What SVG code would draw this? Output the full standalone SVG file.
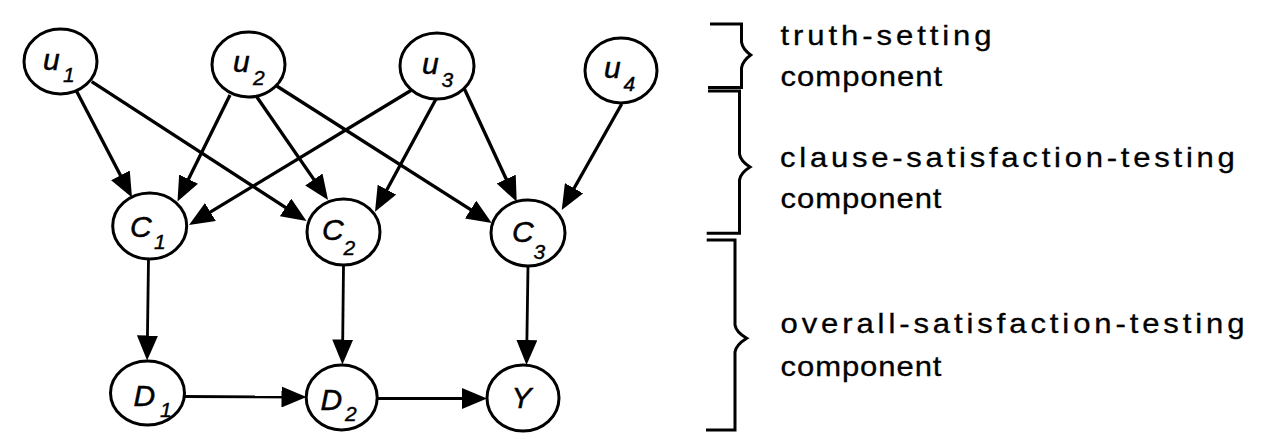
<svg xmlns="http://www.w3.org/2000/svg" width="1270" height="439" viewBox="0 0 1270 439">
<style>
.node ellipse{fill:#fff;stroke:#000;stroke-width:3}
.lab{font-family:"Liberation Sans",Arial,sans-serif;font-style:italic;font-size:30px;fill:#000;stroke:#000;stroke-width:0.5}
.sub{font-family:"Liberation Sans",Arial,sans-serif;font-style:italic;font-size:21px;fill:#000;stroke:#000;stroke-width:0.4}
.edge{stroke:#000;stroke-width:3.3;fill:none;marker-end:url(#arr)}
.vedge{stroke:#000;stroke-width:2.8;fill:none;marker-end:url(#arr)}
.brk{stroke:#000;stroke-width:3;fill:none;stroke-linejoin:miter}
.txt{font-family:"Liberation Sans",Arial,sans-serif;font-size:27px;fill:#000;stroke:#000;stroke-width:0.3}
</style>
<defs>
<marker id="arr" markerUnits="userSpaceOnUse" markerWidth="25" markerHeight="21" viewBox="0 0 25 21" refX="20" refY="10.5" orient="auto">
<path d="M0,0 L25,10.5 L0,21 z" fill="#000"/>
</marker>
</defs>
<rect width="1270" height="439" fill="#fff"/>
<g id="connectors">
<line class="edge" x1="76.6" y1="91.2" x2="129.7" y2="193.1"/>
<line class="edge" x1="91.7" y1="81.7" x2="302.3" y2="218.3"/>
<line class="edge" x1="230" y1="95" x2="179.7" y2="197"/>
<line class="edge" x1="256.7" y1="96.7" x2="325.2" y2="195.9"/>
<line class="edge" x1="276.7" y1="86" x2="487.5" y2="220.3"/>
<line class="edge" x1="411.7" y1="90" x2="193.3" y2="222.4"/>
<line class="edge" x1="436" y1="99" x2="377.4" y2="207.3"/>
<line class="edge" x1="464" y1="88" x2="514.6" y2="197.2"/>
<line class="edge" x1="621.7" y1="104" x2="564.2" y2="205.7"/>
<line class="vedge" x1="148.5" y1="259" x2="147.2" y2="355.5"/>
<line class="vedge" x1="343.5" y1="265" x2="342.5" y2="359.5"/>
<line class="vedge" x1="528" y1="266" x2="526.6" y2="360"/>
<line class="vedge" x1="184.5" y1="396.5" x2="301.5" y2="397"/>
<line class="vedge" x1="377" y1="398.5" x2="482" y2="398.5"/>
</g>
<g id="u1" class="node"><ellipse cx="60.5" cy="61.5" rx="36.5" ry="32.5"/><text class="lab" x="43" y="70">u</text><text class="sub" x="63" y="82">1</text></g>
<g id="u2" class="node"><ellipse cx="248.5" cy="64.5" rx="36.5" ry="32.5"/><text class="lab" x="233" y="71.7">u</text><text class="sub" x="253" y="85">2</text></g>
<g id="u3" class="node"><ellipse cx="437" cy="66" rx="37" ry="33"/><text class="lab" x="422" y="74">u</text><text class="sub" x="441.5" y="87.3">3</text></g>
<g id="u4" class="node"><ellipse cx="621" cy="70.5" rx="36" ry="32.5"/><text class="lab" x="604" y="78.3">u</text><text class="sub" x="623.5" y="90.7">4</text></g>
<g id="C1" class="node"><ellipse cx="149.7" cy="226" rx="37" ry="33"/><text class="lab" x="130" y="237.3">C</text><text class="sub" x="154" y="249.3">1</text></g>
<g id="C2" class="node"><ellipse cx="343.5" cy="232" rx="36.5" ry="33"/><text class="lab" x="322" y="240">C</text><text class="sub" x="343.5" y="255">2</text></g>
<g id="C3" class="node"><ellipse cx="528" cy="233" rx="37" ry="33"/><text class="lab" x="512" y="241.7">C</text><text class="sub" x="533.5" y="259.3">3</text></g>
<g id="D1" class="node"><ellipse cx="147.5" cy="393" rx="37" ry="32"/><text class="lab" x="133.5" y="406">D</text><text class="sub" x="160" y="416.7">1</text></g>
<g id="D2" class="node"><ellipse cx="341.7" cy="397.5" rx="35.5" ry="32.5"/><text class="lab" x="320.5" y="410">D</text><text class="sub" x="345" y="420.7">2</text></g>
<g id="Y" class="node"><ellipse cx="523" cy="398" rx="36" ry="33"/><text class="lab" x="511.5" y="408.3">Y</text></g>
<g id="brackets">
<path class="brk" d="M710,24 H741.5 V42 Q742.5,49 750.7,55 Q742.5,61 741.5,68 V87.5 H708"/>
<path class="brk" d="M708,91 H739.5 V154 Q740.5,161 750,167 Q740.5,173 739.5,180 V233.3 H706.7"/>
<path class="brk" d="M706.7,240 H735 V325 Q736,332 746.7,338.3 Q736,345 735,352 V430 H706"/>
</g>
<g id="labels">
<text class="txt" transform="translate(780.5,45) scale(1.15,1)" x="0" y="0" textLength="183.5" lengthAdjust="spacing">truth-setting</text>
<text class="txt" transform="translate(780.5,86.3) scale(1.15,1)" x="0" y="0" textLength="140.5" lengthAdjust="spacing">component</text>
<text class="txt" transform="translate(780,167) scale(1.15,1)" x="0" y="0" textLength="395.5" lengthAdjust="spacing">clause-satisfaction-testing</text>
<text class="txt" transform="translate(780.5,208.3) scale(1.15,1)" x="0" y="0" textLength="140" lengthAdjust="spacing">component</text>
<text class="txt" transform="translate(780.5,333.3) scale(1.15,1)" x="0" y="0" textLength="403.5" lengthAdjust="spacing">overall-satisfaction-testing</text>
<text class="txt" transform="translate(780.5,376) scale(1.15,1)" x="0" y="0" textLength="140" lengthAdjust="spacing">component</text>
</g>
</svg>
